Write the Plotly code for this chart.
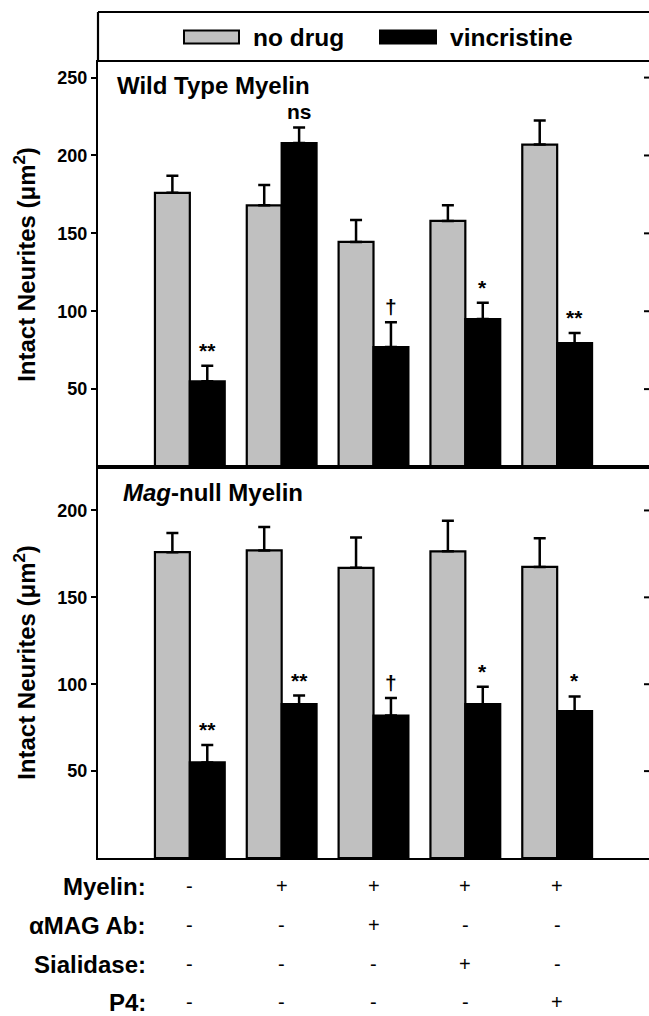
import plotly.graph_objects as go

# ---------------- data ----------------
groups = [0, 1, 2, 3, 4]
series_names = ["no drug", "vincristine"]

wt_nodrug = [176, 168, 144.5, 158, 207]
wt_nodrug_err = [11, 13, 14, 10, 15.5]
wt_vinc = [55, 208, 77, 95, 79.5]
wt_vinc_err = [10, 10, 16, 10.5, 6.5]
wt_sig = ["**", "ns", "†", "*", "**"]

mag_nodrug = [176, 177, 167, 176.5, 167.5]
mag_nodrug_err = [11, 13.5, 17.5, 17.5, 16.5]
mag_vinc = [55, 88.5, 82, 88.5, 84.5]
mag_vinc_err = [10, 5, 10, 10, 8.5]
mag_sig = ["**", "**", "†", "*", "*"]

panel_titles = ["Wild Type Myelin", "<i>Mag</i>-null Myelin"]
y_title = "Intact Neurites (μm<sup>2</sup>)"
top_ticks = [50, 100, 150, 200, 250]
bottom_ticks = [50, 100, 150, 200]
top_range = [0, 260]
bottom_range = [0, 225]

row_labels = ["Myelin:", "αMAG Ab:", "Sialidase:", "P4:"]
row_myelin = ["-", "+", "+", "+", "+"]
row_amag = ["-", "-", "+", "-", "-"]
row_sialidase = ["-", "-", "-", "+", "-"]
row_p4 = ["-", "-", "-", "-", "+"]
rows = [row_myelin, row_amag, row_sialidase, row_p4]

# ---------------- style ----------------
W, H = 649, 1016
GRAY = "#c0c0c0"
BLACK = "#000000"
FONT = "Liberation Sans, Arial, sans-serif"
BARGAP = 0.24

x0 = 98 / W
top_dom = [1 - 467 / H, 1 - 62 / H]
bot_dom = [1 - 858 / H, 1 - 467 / H]
half_bar = (1 - BARGAP) / 4  # offset of each bar centre from group centre


def px_y(p):
    return 1 - p / H


fig = go.Figure()


def add_panel(xa, ya, nd, nd_err, vc, vc_err):
    fig.add_trace(go.Bar(
        x=groups, y=nd, name=series_names[0], xaxis=xa, yaxis=ya,
        marker=dict(color=GRAY, line=dict(color=BLACK, width=2.2)),
        error_y=dict(type="data", symmetric=False, array=nd_err,
                     arrayminus=[0] * len(nd_err), color=BLACK,
                     thickness=2.5, width=6),
        showlegend=False))
    fig.add_trace(go.Bar(
        x=groups, y=vc, name=series_names[1], xaxis=xa, yaxis=ya,
        marker=dict(color=BLACK, line=dict(color=BLACK, width=2.2)),
        error_y=dict(type="data", symmetric=False, array=vc_err,
                     arrayminus=[0] * len(vc_err), color=BLACK,
                     thickness=2.5, width=6),
        showlegend=False))


add_panel("x", "y", wt_nodrug, wt_nodrug_err, wt_vinc, wt_vinc_err)
add_panel("x2", "y2", mag_nodrug, mag_nodrug_err, mag_vinc, mag_vinc_err)

axis_common_x = dict(range=[-1, 5], showline=True, linecolor=BLACK, linewidth=2.2,
                     mirror=True, showticklabels=False, ticks="",
                     showgrid=False, zeroline=False, domain=[x0, 1])
tickfont = dict(family=FONT, size=18, color=BLACK, weight="bold")
titlefont = dict(family=FONT, size=24, color=BLACK, weight="bold")
axis_common_y = dict(showline=True, linecolor=BLACK, linewidth=2.2,
                     ticks="outside", ticklen=5, tickwidth=2, tickcolor=BLACK,
                     showgrid=False, zeroline=False, tickfont=tickfont)

fig.update_layout(
    width=W, height=H,
    margin=dict(l=0, r=0, t=0, b=0),
    paper_bgcolor="white", plot_bgcolor="white",
    barmode="group", bargap=BARGAP, bargroupgap=0,
    font=dict(family=FONT, color=BLACK),
    xaxis=dict(anchor="y", **axis_common_x),
    xaxis2=dict(anchor="y2", **axis_common_x),
    yaxis=dict(anchor="x", domain=top_dom, range=top_range, tickvals=top_ticks,
               title=dict(text=y_title, font=titlefont, standoff=15),
               **axis_common_y),
    yaxis2=dict(anchor="x2", domain=bot_dom, range=bottom_range,
                tickvals=bottom_ticks,
                title=dict(text=y_title, font=titlefont, standoff=15),
                **axis_common_y),
)

# mirrored tick marks on the right edge (pointing inward)
for yref, ticks in [("y", top_ticks), ("y2", bottom_ticks)]:
    for t in ticks:
        fig.add_shape(type="line", xref="paper", yref=yref,
                      x0=1 - 5 / W, x1=1, y0=t, y1=t,
                      line=dict(color=BLACK, width=2))

# legend box (top line + left line)
fig.add_shape(type="line", xref="paper", yref="paper", x0=x0, x1=1,
              y0=px_y(12), y1=px_y(12), line=dict(color=BLACK, width=2.2))
fig.add_shape(type="line", xref="paper", yref="paper", x0=x0, x1=x0,
              y0=px_y(12), y1=px_y(62), line=dict(color=BLACK, width=2.2))

# legend swatches and labels
leg_y = px_y(37)
leg_items = [(184, 239, GRAY, series_names[0], 251),
             (380, 436, BLACK, series_names[1], 448)]
for sx0, sx1, col, name, tx in leg_items:
    fig.add_shape(type="rect", xref="paper", yref="paper",
                  x0=sx0 / W, x1=sx1 / W, y0=px_y(43.5), y1=px_y(30.5),
                  fillcolor=col, line=dict(color=BLACK, width=2))
    fig.add_annotation(xref="paper", yref="paper", x=tx / W, y=leg_y,
                       xanchor="left", yanchor="middle", text=name,
                       showarrow=False,
                       font=dict(family=FONT, size=24.5, color=BLACK, weight="bold"))

# panel titles
fig.add_annotation(xref="paper", yref="paper", x=115 / W, y=px_y(86),
                   xanchor="left", yanchor="middle", text=panel_titles[0],
                   showarrow=False,
                   font=dict(family=FONT, size=24, color=BLACK, weight="bold"))
fig.add_annotation(xref="paper", yref="paper", x=121 / W, y=px_y(492),
                   xanchor="left", yanchor="middle", text=panel_titles[1],
                   showarrow=False,
                   font=dict(family=FONT, size=24, color=BLACK, weight="bold"))

# significance marks above vincristine bars
for xa, ya, vals, errs, sigs in [("x", "y", wt_vinc, wt_vinc_err, wt_sig),
                                  ("x2", "y2", mag_vinc, mag_vinc_err, mag_sig)]:
    for g, v, e, s in zip(groups, vals, errs, sigs):
        fig.add_annotation(xref=xa, yref=ya, x=g + half_bar, y=v + e,
                           xanchor="center", yanchor="bottom", text=s,
                           showarrow=False, yshift=2,
                           font=dict(family=FONT, size=21, color=BLACK,
                                     weight="bold"))

# treatment table under the chart
row_y = [886, 925, 964, 1002]
for lbl, ry, vals in zip(row_labels, row_y, rows):
    fig.add_annotation(xref="paper", yref="paper", x=148 / W, y=px_y(ry),
                       xanchor="right", yanchor="middle", text=lbl,
                       showarrow=False,
                       font=dict(family=FONT, size=24, color=BLACK,
                                 weight="bold"))
    for g, sym in zip(groups, vals):
        fig.add_annotation(xref="x2", yref="paper", x=g, y=px_y(ry),
                           xanchor="center", yanchor="middle", text=sym,
                           showarrow=False,
                           font=dict(family=FONT, size=20, color=BLACK))

fig.write_html(
    "out.html",
    config={"displayModeBar": False},
    post_script="document.body.style.margin='0';"
                "document.body.style.overflow='hidden';",
)
